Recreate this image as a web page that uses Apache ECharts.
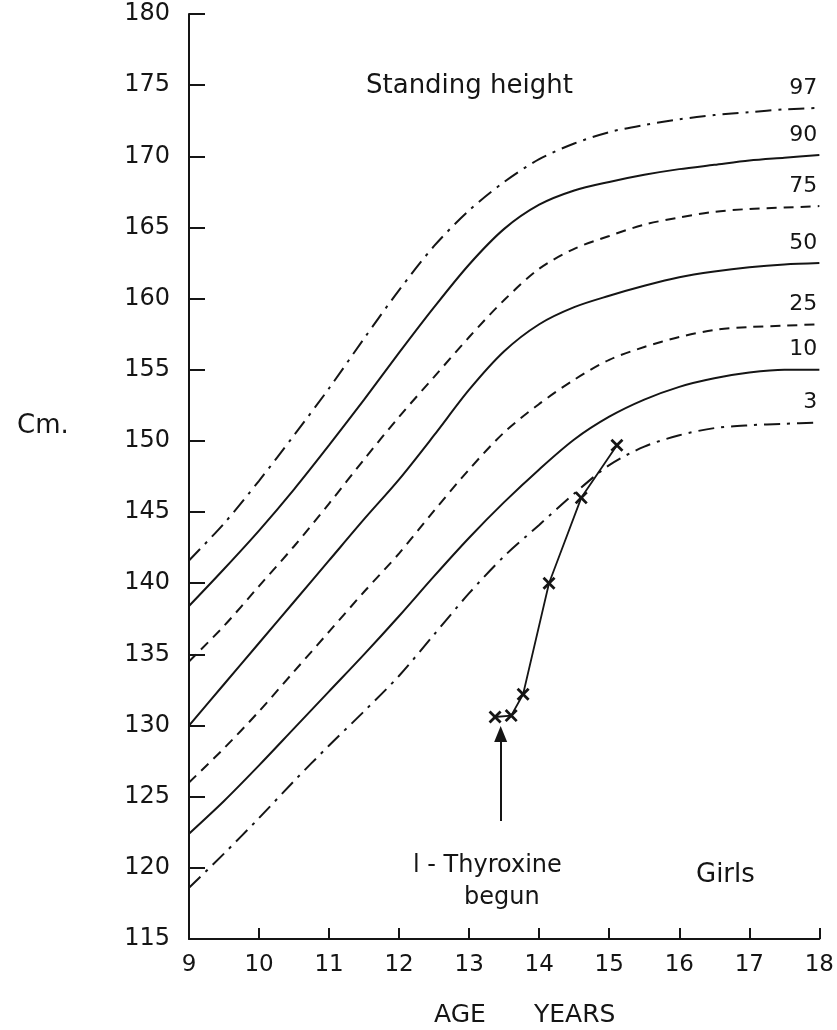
<!DOCTYPE html>
<html>
<head>
<meta charset="utf-8">
<script src="https://cdn.jsdelivr.net/npm/echarts@6/dist/echarts.min.js"></script>
<style>
  html, body { margin: 0; padding: 0; background: #fff; }
  #chart { width: 837px; height: 1030px; }
</style>
</head>
<body>
<div id="chart"></div>
<script>
var FONT = "DejaVu Sans";
var INK = "#151515";

var ages = [9, 9.5, 10, 10.5, 11, 11.5, 12, 12.5, 13, 13.5, 14, 14.5, 15, 15.5, 16, 16.5, 17, 17.5, 18];

// centile curves, cm
var p97 = [141.6, 144.2, 147.2, 150.4, 153.7, 157.2, 160.6, 163.7, 166.2, 168.2, 169.8, 170.9, 171.7, 172.2, 172.6, 172.9, 173.1, 173.3, 173.4];
var p90 = [138.4, 141.0, 143.7, 146.6, 149.7, 152.9, 156.2, 159.4, 162.4, 164.9, 166.6, 167.6, 168.2, 168.7, 169.1, 169.4, 169.7, 169.9, 170.1];
var p75 = [134.5, 137.0, 139.8, 142.6, 145.6, 148.7, 151.7, 154.5, 157.3, 159.9, 162.1, 163.5, 164.4, 165.2, 165.7, 166.1, 166.3, 166.4, 166.5];
var p50 = [130.0, 132.9, 135.8, 138.7, 141.6, 144.5, 147.3, 150.4, 153.6, 156.3, 158.2, 159.4, 160.2, 160.9, 161.5, 161.9, 162.2, 162.4, 162.5];
var p25 = [126.0, 128.4, 131.0, 133.8, 136.6, 139.4, 142.1, 145.1, 148.0, 150.6, 152.6, 154.3, 155.7, 156.6, 157.3, 157.8, 158.0, 158.1, 158.2];
var p10 = [122.4, 124.7, 127.2, 129.8, 132.4, 135.0, 137.7, 140.5, 143.2, 145.7, 148.0, 150.1, 151.7, 152.9, 153.8, 154.4, 154.8, 155.0, 155.0];
var p3  = [118.6, 121.0, 123.5, 126.1, 128.6, 131.0, 133.5, 136.4, 139.3, 141.9, 144.1, 146.3, 148.3, 149.6, 150.4, 150.9, 151.1, 151.2, 151.3];

// patient measurements
var patientAge    = [13.37, 13.60, 13.77, 14.14, 14.60, 15.11];
var patientHeight = [130.6, 130.7, 132.2, 140.0, 146.0, 149.7];

// arrow marking start of treatment
var arrowAge = 13.45;
var arrowFrom = 123.3;
var arrowTo = 129.4;

var xTicks = [9, 18, 1];
var yTicks = [115, 180, 5];

var DASH_DOT = [16, 7, 3, 7];
var DASH = [10, 7];

var curves = [
  { name: "97", data: p97, type: DASH_DOT },
  { name: "90", data: p90, type: "solid" },
  { name: "75", data: p75, type: DASH },
  { name: "50", data: p50, type: "solid" },
  { name: "25", data: p25, type: DASH },
  { name: "10", data: p10, type: "solid" },
  { name: "3",  data: p3,  type: DASH_DOT }
];

function pairs(xs, ys) {
  return xs.map(function (x, i) { return [x, ys[i]]; });
}

var series = curves.map(function (c) {
  return {
    name: c.name,
    type: "line",
    data: pairs(ages, c.data),
    smooth: 0.3,
    showSymbol: false,
    silent: true,
    lineStyle: { color: INK, width: 2, type: c.type },
    endLabel: {
      show: true,
      formatter: c.name,
      align: "right",
      verticalAlign: "bottom",
      padding: [0, 10, 9, 0],
      fontFamily: FONT,
      fontSize: 22,
      color: INK
    }
  };
});

var CROSS = "path://M0,1.5L1.5,0L5,3.5L8.5,0L10,1.5L6.5,5L10,8.5L8.5,10L5,6.5L1.5,10L0,8.5L3.5,5Z";

series.push({
  name: "patient",
  type: "line",
  data: pairs(patientAge, patientHeight),
  symbol: CROSS,
  symbolSize: 13,
  showSymbol: true,
  itemStyle: { color: INK },
  lineStyle: { color: INK, width: 1.8 },
  markLine: {
    silent: true,
    symbol: ["none", "triangle"],
    symbolSize: [13, 16],
    label: { show: false },
    lineStyle: { color: INK, width: 2, type: "solid" },
    data: [[{ coord: [arrowAge, arrowFrom] }, { coord: [arrowAge, arrowTo] }]]
  }
});

function note(text, x, y, size) {
  return {
    type: "text", x: x, y: y,
    style: { text: text, fontFamily: FONT, fontSize: size, fill: INK, align: "left", verticalAlign: "middle" }
  };
}

var chart = echarts.init(document.getElementById("chart"), null, { renderer: "canvas" });
chart.setOption({
  backgroundColor: "#fff",
  animation: false,
  grid: { left: 189, right: 11, top: 14, bottom: 91 },
  xAxis: {
    type: "value",
    min: xTicks[0], max: xTicks[1], interval: xTicks[2],
    axisLine: { lineStyle: { color: INK, width: 2 } },
    axisTick: { inside: true, length: 11, lineStyle: { color: INK, width: 2 } },
    axisLabel: { color: INK, fontFamily: FONT, fontSize: 23, margin: 15 },
    splitLine: { show: false }
  },
  yAxis: {
    type: "value",
    min: yTicks[0], max: yTicks[1], interval: yTicks[2],
    axisLine: { show: true, lineStyle: { color: INK, width: 2 } },
    axisTick: { show: true, inside: true, length: 16, lineStyle: { color: INK, width: 2 } },
    axisLabel: { color: INK, fontFamily: FONT, fontSize: 24, margin: 19 },
    splitLine: { show: false }
  },
  graphic: [
    note("Standing height", 366, 86, 26),
    note("Cm.", 17, 426, 26),
    note("l - Thyroxine", 413, 866, 24),
    note("begun", 464, 898, 24),
    note("Girls", 696, 875, 26),
    note("AGE", 434, 1015, 25),
    note("YEARS", 534, 1015, 25)
  ],
  series: series
});
</script>
</body>
</html>
